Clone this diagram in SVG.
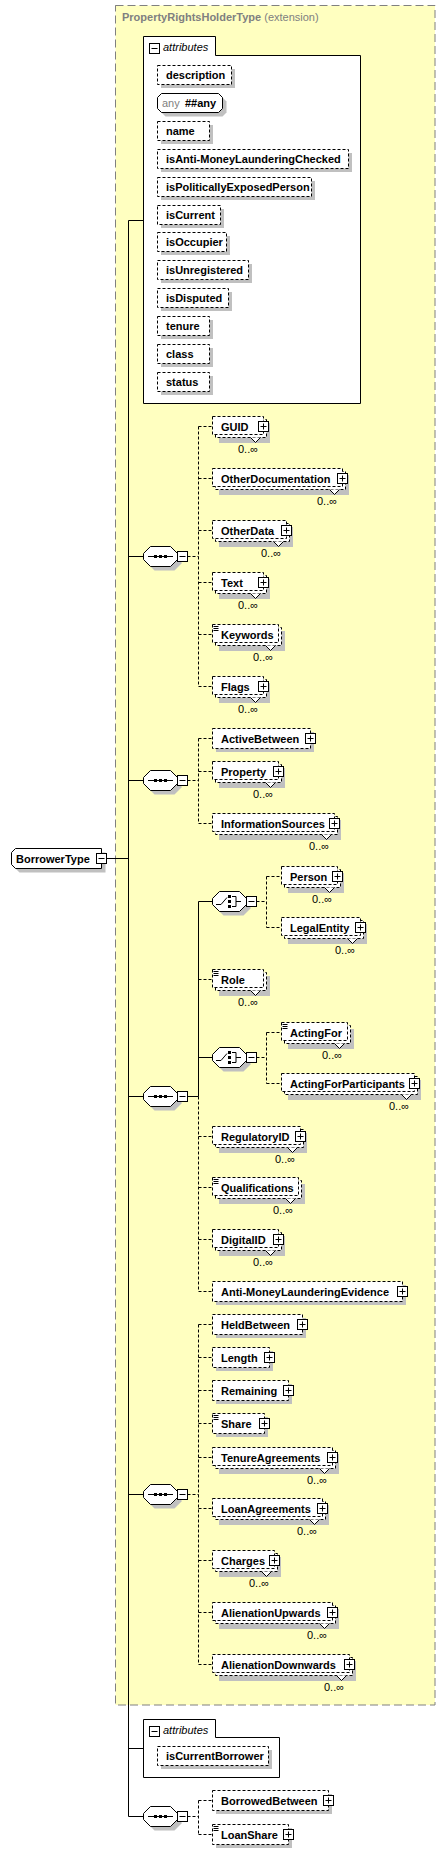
<svg xmlns="http://www.w3.org/2000/svg" width="445" height="1853" viewBox="0 0 445 1853">
<style>
.t{font-family:"Liberation Sans",Arial,sans-serif;font-size:11px;font-weight:bold;fill:#000}
.n{font-family:"Liberation Sans",Arial,sans-serif;font-size:11px;fill:#000}
.i{font-family:"Liberation Sans",Arial,sans-serif;font-size:11px;font-style:italic;fill:#000}
.sh{fill:#C0C0C0}
.b{fill:#fff;stroke:#000;stroke-width:1;stroke-dasharray:3 2}
.s{fill:#fff;stroke:#000;stroke-width:1}
.v{fill:#fff;stroke:#000;stroke-width:1}
.c{fill:none;stroke:#000;stroke-width:1}
.d{fill:none;stroke:#000;stroke-width:1;stroke-dasharray:3 2}
</style>
<defs>
<g id="pl"><rect x="-5" y="-5" width="10" height="10" fill="#fff" stroke="#000"/><path d="M-3 0H3M0 -3V3" stroke="#000"/></g>
<g id="mi"><rect x="-5" y="-5" width="10" height="10" fill="#fff" stroke="#000"/><path d="M-3 0H3" stroke="#000"/></g>
<g id="eq"><path d="M1.5 2.5h5M1.5 4.5h5M1.5 6.5h5" stroke="#000"/></g>
<g id="sq">
<path class="sh" d="M11.5 -6H31.5L38.5 1V7L31.5 14H11.5L4.5 7V1Z"/>
<path class="s" d="M7.5 -10H27.5L34.5 -3V3L27.5 10H7.5L0.5 3V-3Z"/>
<path d="M5 0H30" stroke="#000"/>
<rect x="11" y="-1.5" width="3" height="3"/><rect x="16" y="-1.5" width="3" height="3"/><rect x="21" y="-1.5" width="3" height="3"/>
<use href="#mi" x="39.5" y="0"/>
</g>
<g id="ch">
<path class="sh" d="M11.5 -6H31.5L38.5 1V7L31.5 14H11.5L4.5 7V1Z"/>
<path class="s" d="M7.5 -10H27.5L34.5 -3V3L27.5 10H7.5L0.5 3V-3Z"/>
<path d="M4 3H9L15 -4M20 -5H24V5H20M24 0H29" fill="none" stroke="#000"/>
<rect x="16" y="-6.5" width="3" height="3"/><rect x="16" y="-1.5" width="3" height="3"/><rect x="16" y="3.5" width="3" height="3"/>
<use href="#mi" x="39.5" y="0"/>
</g>
</defs>

<g id="PropertyRightsHolderType">
<rect x="115.5" y="5.5" width="319.5" height="1699.5" fill="#FFFFC0" stroke="#808080" stroke-width="1" stroke-dasharray="8 4"/>
<text class="t" x="122" y="21" style="fill:#808080">PropertyRightsHolderType<tspan font-weight="normal"> (extension)</tspan></text>
</g>

<g id="connectors">
<path class="c" d="M128.5 220.5V1816.5M128.5 220.5H143.5M128.5 556.5H143M128.5 780.5H143M106.5 858.5H128.5M128.5 1096.5H143M128.5 1494.5H143M128.5 1748.5H143.5M128.5 1816.5H143M187.5 1096.5H198.5M198.5 901.5V1096.5M198.5 901.5H212M198.5 1057.5H212"/>
<path class="d" d="M187.5 556.5H198.5M198.5 426.5V686.5M198.5 426.5H212M198.5 478.5H212M198.5 530.5H212M198.5 582.5H212M198.5 634.5H212M198.5 686.5H212
M187.5 780.5H198.5M198.5 738.5V823.5M198.5 738.5H212M198.5 771.5H212M198.5 823.5H212
M198.5 1096.5V1291.5M198.5 979.5H212M198.5 1136.5H212M198.5 1187.5H212M198.5 1239.5H212M198.5 1291.5H212
M256.5 901.5H266.5M266.5 876.5V927.5M266.5 876.5H281M266.5 927.5H281
M256.5 1057.5H266.5M266.5 1032.5V1083.5M266.5 1032.5H281M266.5 1083.5H281
M187.5 1494.5H198.5M198.5 1324.5V1664.5M198.5 1324.5H212M198.5 1357.5H212M198.5 1390.5H212M198.5 1423.5H212M198.5 1457.5H212M198.5 1508.5H212M198.5 1560.5H212M198.5 1612.5H212M198.5 1664.5H212
M187.5 1816.5H198.5M198.5 1800.5V1834.5M198.5 1800.5H212M198.5 1834.5H212"/>
</g>

<g id="attributes1">
<path d="M143.5 36.5H215.5V55.5H360.5V403.5H143.5Z" fill="#fff" stroke="#000"/>
<use href="#mi" x="154.5" y="48.5"/>
<text class="i" x="163" y="51">attributes</text>
</g>
<g id="attr-description" transform="translate(157,65)"><rect class="sh" x="4" y="4" width="74" height="19"/><rect class="b" x="0.5" y="0.5" width="74" height="19"/><text class="t" x="9" y="14">description</text></g>
<g id="attr-any" transform="translate(157,93)"><path class="sh" d="M8.5 4.5H65.5L69.5 8.5V19.5L65.5 23.5H8.5L4.5 19.5V8.5Z"/><path class="s" d="M4.5 0.5H61.5L65.5 4.5V15.5L61.5 19.5H4.5L0.5 15.5V4.5Z"/><text class="n" x="5" y="14" style="fill:#808080">any</text><text class="t" x="28" y="14">##any</text></g>
<g id="attr-name" transform="translate(157,121)"><rect class="sh" x="4" y="4" width="52" height="19"/><rect class="b" x="0.5" y="0.5" width="52" height="19"/><text class="t" x="9" y="14">name</text></g>
<g id="attr-isAnti-MoneyLaunderingChecked" transform="translate(157,149)"><rect class="sh" x="4" y="4" width="191" height="19"/><rect class="b" x="0.5" y="0.5" width="191" height="19"/><text class="t" x="9" y="14">isAnti-MoneyLaunderingChecked</text></g>
<g id="attr-isPoliticallyExposedPerson" transform="translate(157,177)"><rect class="sh" x="4" y="4" width="154" height="19"/><rect class="b" x="0.5" y="0.5" width="154" height="19"/><text class="t" x="9" y="14">isPoliticallyExposedPerson</text></g>
<g id="attr-isCurrent" transform="translate(157,205)"><rect class="sh" x="4" y="4" width="63" height="19"/><rect class="b" x="0.5" y="0.5" width="63" height="19"/><text class="t" x="9" y="14">isCurrent</text></g>
<g id="attr-isOccupier" transform="translate(157,232)"><rect class="sh" x="4" y="4" width="69" height="19"/><rect class="b" x="0.5" y="0.5" width="69" height="19"/><text class="t" x="9" y="14">isOccupier</text></g>
<g id="attr-isUnregistered" transform="translate(157,260)"><rect class="sh" x="4" y="4" width="91" height="19"/><rect class="b" x="0.5" y="0.5" width="91" height="19"/><text class="t" x="9" y="14">isUnregistered</text></g>
<g id="attr-isDisputed" transform="translate(157,288)"><rect class="sh" x="4" y="4" width="71" height="19"/><rect class="b" x="0.5" y="0.5" width="71" height="19"/><text class="t" x="9" y="14">isDisputed</text></g>
<g id="attr-tenure" transform="translate(157,316)"><rect class="sh" x="4" y="4" width="52" height="19"/><rect class="b" x="0.5" y="0.5" width="52" height="19"/><text class="t" x="9" y="14">tenure</text></g>
<g id="attr-class" transform="translate(157,344)"><rect class="sh" x="4" y="4" width="52" height="19"/><rect class="b" x="0.5" y="0.5" width="52" height="19"/><text class="t" x="9" y="14">class</text></g>
<g id="attr-status" transform="translate(157,372)"><rect class="sh" x="4" y="4" width="52" height="19"/><rect class="b" x="0.5" y="0.5" width="52" height="19"/><text class="t" x="9" y="14">status</text></g>

<g id="BorrowerType" transform="translate(11,848)">
<path class="sh" d="M8.5 4.5H94.5V24.5H8.5L4.5 20.5V8.5Z"/>
<path class="s" d="M4.5 0.5H90.5V20.5H4.5L0.5 16.5V4.5Z"/>
<text class="t" x="5" y="15">BorrowerType</text>
<use href="#mi" x="90.5" y="10.5"/>
</g>

<g id="seq1"><use href="#sq" x="143" y="556.5"/></g>
<g id="seq2"><use href="#sq" x="143" y="780.5"/></g>
<g id="seq3"><use href="#sq" x="143" y="1096.5"/></g>
<g id="seq4"><use href="#sq" x="143" y="1494.5"/></g>
<g id="seq5"><use href="#sq" x="143" y="1816.5"/></g>
<g id="choice1"><use href="#ch" x="212" y="901.5"/></g>
<g id="choice2"><use href="#ch" x="212" y="1057.5"/></g>

<g id="GUID" transform="translate(212,416)"><rect class="sh" x="7" y="7" width="51" height="20"/><rect class="b" x="3.5" y="3.5" width="51" height="18"/><rect class="b" x="0.5" y="0.5" width="51" height="18"/><path class="v" d="M38.5 21.5l5 5 5-5"/><text class="t" x="9" y="14.5">GUID</text><use href="#pl" x="51.5" y="10.5"/><text class="n" x="26" y="37">0..∞</text></g>
<g id="OtherDocumentation" transform="translate(212,468)"><rect class="sh" x="7" y="7" width="130" height="20"/><rect class="b" x="3.5" y="3.5" width="130" height="18"/><rect class="b" x="0.5" y="0.5" width="130" height="18"/><path class="v" d="M117.5 21.5l5 5 5-5"/><text class="t" x="9" y="14.5">OtherDocumentation</text><use href="#pl" x="130.5" y="10.5"/><text class="n" x="105" y="37">0..∞</text></g>
<g id="OtherData" transform="translate(212,520)"><rect class="sh" x="7" y="7" width="74" height="20"/><rect class="b" x="3.5" y="3.5" width="74" height="18"/><rect class="b" x="0.5" y="0.5" width="74" height="18"/><path class="v" d="M61.5 21.5l5 5 5-5"/><text class="t" x="9" y="14.5">OtherData</text><use href="#pl" x="74.5" y="10.5"/><text class="n" x="49" y="37">0..∞</text></g>
<g id="Text" transform="translate(212,572)"><rect class="sh" x="7" y="7" width="51" height="20"/><rect class="b" x="3.5" y="3.5" width="51" height="18"/><rect class="b" x="0.5" y="0.5" width="51" height="18"/><path class="v" d="M38.5 21.5l5 5 5-5"/><text class="t" x="9" y="14.5">Text</text><use href="#pl" x="51.5" y="10.5"/><text class="n" x="26" y="37">0..∞</text></g>
<g id="Keywords" transform="translate(212,624)"><rect class="sh" x="7" y="7" width="66" height="20"/><rect class="b" x="3.5" y="3.5" width="66" height="18"/><rect class="b" x="0.5" y="0.5" width="66" height="18"/><path class="v" d="M53.5 21.5l5 5 5-5"/><use href="#eq"/><text class="t" x="9" y="14.5">Keywords</text><text class="n" x="41" y="37">0..∞</text></g>
<g id="Flags" transform="translate(212,676)"><rect class="sh" x="7" y="7" width="51" height="20"/><rect class="b" x="3.5" y="3.5" width="51" height="18"/><rect class="b" x="0.5" y="0.5" width="51" height="18"/><path class="v" d="M38.5 21.5l5 5 5-5"/><text class="t" x="9" y="14.5">Flags</text><use href="#pl" x="51.5" y="10.5"/><text class="n" x="26" y="37">0..∞</text></g>

<g id="ActiveBetween" transform="translate(212,728)"><rect class="sh" x="4" y="4" width="98" height="20"/><rect class="b" x="0.5" y="0.5" width="98" height="20"/><text class="t" x="9" y="15">ActiveBetween</text><use href="#pl" x="98.5" y="10.5"/></g>
<g id="Property" transform="translate(212,761)"><rect class="sh" x="7" y="7" width="66" height="20"/><rect class="b" x="3.5" y="3.5" width="66" height="18"/><rect class="b" x="0.5" y="0.5" width="66" height="18"/><path class="v" d="M53.5 21.5l5 5 5-5"/><text class="t" x="9" y="14.5">Property</text><use href="#pl" x="66.5" y="10.5"/><text class="n" x="41" y="37">0..∞</text></g>
<g id="InformationSources" transform="translate(212,813)"><rect class="sh" x="7" y="7" width="122" height="20"/><rect class="b" x="3.5" y="3.5" width="122" height="18"/><rect class="b" x="0.5" y="0.5" width="122" height="18"/><path class="v" d="M109.5 21.5l5 5 5-5"/><text class="t" x="9" y="14.5">InformationSources</text><use href="#pl" x="122.5" y="10.5"/><text class="n" x="97" y="37">0..∞</text></g>

<g id="Person" transform="translate(281,866)"><rect class="sh" x="7" y="7" width="56" height="20"/><rect class="b" x="3.5" y="3.5" width="56" height="18"/><rect class="b" x="0.5" y="0.5" width="56" height="18"/><path class="v" d="M43.5 21.5l5 5 5-5"/><text class="t" x="9" y="14.5">Person</text><use href="#pl" x="56.5" y="10.5"/><text class="n" x="31" y="37">0..∞</text></g>
<g id="LegalEntity" transform="translate(281,917)"><rect class="sh" x="7" y="7" width="79" height="20"/><rect class="b" x="3.5" y="3.5" width="79" height="18"/><rect class="b" x="0.5" y="0.5" width="79" height="18"/><path class="v" d="M66.5 21.5l5 5 5-5"/><text class="t" x="9" y="14.5">LegalEntity</text><use href="#pl" x="79.5" y="10.5"/><text class="n" x="54" y="37">0..∞</text></g>
<g id="Role" transform="translate(212,969)"><rect class="sh" x="7" y="7" width="51" height="20"/><rect class="b" x="3.5" y="3.5" width="51" height="18"/><rect class="b" x="0.5" y="0.5" width="51" height="18"/><path class="v" d="M38.5 21.5l5 5 5-5"/><use href="#eq"/><text class="t" x="9" y="14.5">Role</text><text class="n" x="26" y="37">0..∞</text></g>
<g id="ActingFor" transform="translate(281,1022)"><rect class="sh" x="7" y="7" width="66" height="20"/><rect class="b" x="3.5" y="3.5" width="66" height="18"/><rect class="b" x="0.5" y="0.5" width="66" height="18"/><path class="v" d="M53.5 21.5l5 5 5-5"/><use href="#eq"/><text class="t" x="9" y="14.5">ActingFor</text><text class="n" x="41" y="37">0..∞</text></g>
<g id="ActingForParticipants" transform="translate(281,1073)"><rect class="sh" x="7" y="7" width="133" height="20"/><rect class="b" x="3.5" y="3.5" width="133" height="18"/><rect class="b" x="0.5" y="0.5" width="133" height="18"/><path class="v" d="M120.5 21.5l5 5 5-5"/><text class="t" x="9" y="14.5">ActingForParticipants</text><use href="#pl" x="133.5" y="10.5"/><text class="n" x="108" y="37">0..∞</text></g>
<g id="RegulatoryID" transform="translate(212,1126)"><rect class="sh" x="7" y="7" width="88" height="20"/><rect class="b" x="3.5" y="3.5" width="88" height="18"/><rect class="b" x="0.5" y="0.5" width="88" height="18"/><path class="v" d="M75.5 21.5l5 5 5-5"/><text class="t" x="9" y="14.5">RegulatoryID</text><use href="#pl" x="88.5" y="10.5"/><text class="n" x="63" y="37">0..∞</text></g>
<g id="Qualifications" transform="translate(212,1177)"><rect class="sh" x="7" y="7" width="86" height="20"/><rect class="b" x="3.5" y="3.5" width="86" height="18"/><rect class="b" x="0.5" y="0.5" width="86" height="18"/><path class="v" d="M73.5 21.5l5 5 5-5"/><use href="#eq"/><text class="t" x="9" y="14.5">Qualifications</text><text class="n" x="61" y="37">0..∞</text></g>
<g id="DigitalID" transform="translate(212,1229)"><rect class="sh" x="7" y="7" width="66" height="20"/><rect class="b" x="3.5" y="3.5" width="66" height="18"/><rect class="b" x="0.5" y="0.5" width="66" height="18"/><path class="v" d="M53.5 21.5l5 5 5-5"/><text class="t" x="9" y="14.5">DigitalID</text><use href="#pl" x="66.5" y="10.5"/><text class="n" x="41" y="37">0..∞</text></g>
<g id="Anti-MoneyLaunderingEvidence" transform="translate(212,1281)"><rect class="sh" x="4" y="4" width="190" height="20"/><rect class="b" x="0.5" y="0.5" width="190" height="20"/><text class="t" x="9" y="15">Anti-MoneyLaunderingEvidence</text><use href="#pl" x="190.5" y="10.5"/></g>

<g id="HeldBetween" transform="translate(212,1314)"><rect class="sh" x="4" y="4" width="90" height="20"/><rect class="b" x="0.5" y="0.5" width="90" height="20"/><text class="t" x="9" y="15">HeldBetween</text><use href="#pl" x="90.5" y="10.5"/></g>
<g id="Length" transform="translate(212,1347)"><rect class="sh" x="4" y="4" width="57" height="20"/><rect class="b" x="0.5" y="0.5" width="57" height="20"/><text class="t" x="9" y="15">Length</text><use href="#pl" x="57.5" y="10.5"/></g>
<g id="Remaining" transform="translate(212,1380)"><rect class="sh" x="4" y="4" width="76" height="20"/><rect class="b" x="0.5" y="0.5" width="76" height="20"/><text class="t" x="9" y="15">Remaining</text><use href="#pl" x="76.5" y="10.5"/></g>
<g id="Share" transform="translate(212,1413)"><rect class="sh" x="4" y="4" width="52" height="20"/><rect class="b" x="0.5" y="0.5" width="52" height="20"/><use href="#eq"/><text class="t" x="9" y="15">Share</text><use href="#pl" x="52.5" y="10.5"/></g>
<g id="TenureAgreements" transform="translate(212,1447)"><rect class="sh" x="7" y="7" width="120" height="20"/><rect class="b" x="3.5" y="3.5" width="120" height="18"/><rect class="b" x="0.5" y="0.5" width="120" height="18"/><path class="v" d="M107.5 21.5l5 5 5-5"/><text class="t" x="9" y="14.5">TenureAgreements</text><use href="#pl" x="120.5" y="10.5"/><text class="n" x="95" y="37">0..∞</text></g>
<g id="LoanAgreements" transform="translate(212,1498)"><rect class="sh" x="7" y="7" width="110" height="20"/><rect class="b" x="3.5" y="3.5" width="110" height="18"/><rect class="b" x="0.5" y="0.5" width="110" height="18"/><path class="v" d="M97.5 21.5l5 5 5-5"/><text class="t" x="9" y="14.5">LoanAgreements</text><use href="#pl" x="110.5" y="10.5"/><text class="n" x="85" y="37">0..∞</text></g>
<g id="Charges" transform="translate(212,1550)"><rect class="sh" x="7" y="7" width="62" height="20"/><rect class="b" x="3.5" y="3.5" width="62" height="18"/><rect class="b" x="0.5" y="0.5" width="62" height="18"/><path class="v" d="M49.5 21.5l5 5 5-5"/><text class="t" x="9" y="14.5">Charges</text><use href="#pl" x="62.5" y="10.5"/><text class="n" x="37" y="37">0..∞</text></g>
<g id="AlienationUpwards" transform="translate(212,1602)"><rect class="sh" x="7" y="7" width="120" height="20"/><rect class="b" x="3.5" y="3.5" width="120" height="18"/><rect class="b" x="0.5" y="0.5" width="120" height="18"/><path class="v" d="M107.5 21.5l5 5 5-5"/><text class="t" x="9" y="14.5">AlienationUpwards</text><use href="#pl" x="120.5" y="10.5"/><text class="n" x="95" y="37">0..∞</text></g>
<g id="AlienationDownwards" transform="translate(212,1654)"><rect class="sh" x="7" y="7" width="137" height="20"/><rect class="b" x="3.5" y="3.5" width="137" height="18"/><rect class="b" x="0.5" y="0.5" width="137" height="18"/><path class="v" d="M124.5 21.5l5 5 5-5"/><text class="t" x="9" y="14.5">AlienationDownwards</text><use href="#pl" x="137.5" y="10.5"/><text class="n" x="112" y="37">0..∞</text></g>

<g id="attributes2">
<path d="M143.5 1719.5H215.5V1737.5H279.5V1777.5H143.5Z" fill="#fff" stroke="#000"/>
<use href="#mi" x="154.5" y="1731.5"/>
<text class="i" x="163" y="1734">attributes</text>
</g>
<g id="attr-isCurrentBorrower" transform="translate(157,1746)"><rect class="sh" x="4" y="4" width="111" height="19"/><rect class="b" x="0.5" y="0.5" width="111" height="19"/><text class="t" x="9" y="14">isCurrentBorrower</text></g>

<g id="BorrowedBetween" transform="translate(212,1790)"><rect class="sh" x="4" y="4" width="116" height="20"/><rect class="b" x="0.5" y="0.5" width="116" height="20"/><text class="t" x="9" y="15">BorrowedBetween</text><use href="#pl" x="116.5" y="10.5"/></g>
<g id="LoanShare" transform="translate(212,1824)"><rect class="sh" x="4" y="4" width="76" height="20"/><rect class="b" x="0.5" y="0.5" width="76" height="20"/><use href="#eq"/><text class="t" x="9" y="15">LoanShare</text><use href="#pl" x="76.5" y="10.5"/></g>
</svg>
